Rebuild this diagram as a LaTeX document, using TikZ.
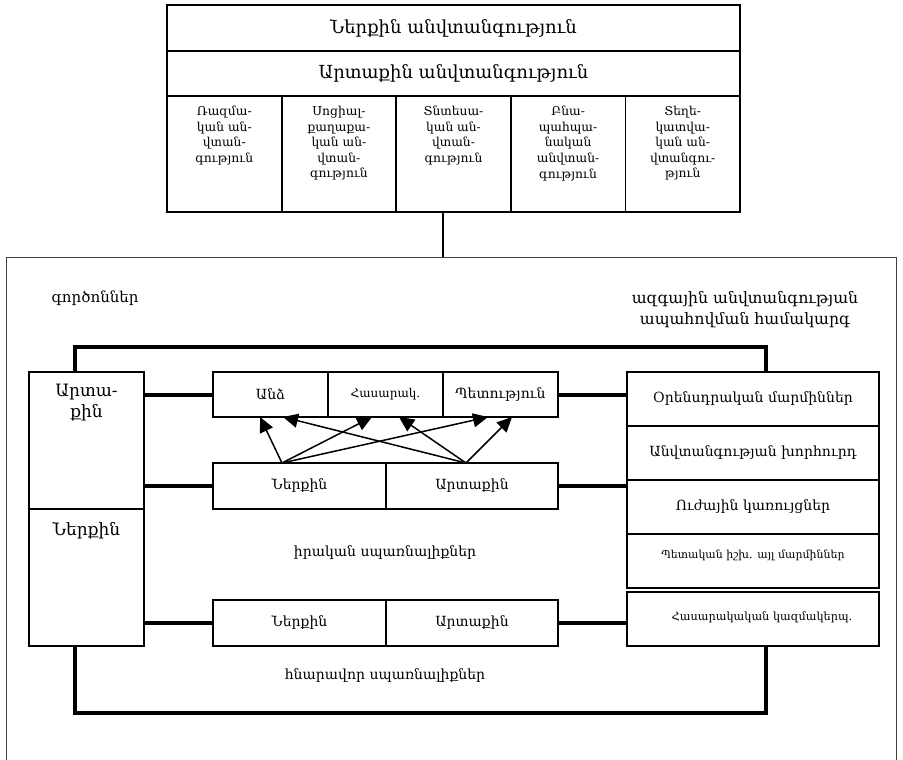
\documentclass[tikz,border=0pt]{standalone}
\usepackage{fontspec}
\setmainfont{DejaVu Serif}
\usetikzlibrary{arrows.meta}
\begin{document}
\begin{tikzpicture}[x=1pt,y=-1pt,
  cell/.style={draw,line width=1.4pt,inner sep=0pt,outer sep=0pt,anchor=north west},
  topcell/.style={cell,line width=1.8pt},
  thickline/.style={line width=4pt},
  thinline/.style={line width=1.5pt},
  arr/.style={line width=1.5pt,-{Triangle[length=15pt,width=14pt]}},
  fbig/.style={font=\fontsize{18}{21}\selectfont},
  fmid/.style={font=\fontsize{14}{17}\selectfont},
  fleft/.style={font=\fontsize{17}{21}\selectfont},
  fsmall/.style={font=\fontsize{12}{15}\selectfont},
  coltext/.style={anchor=north,align=center,inner sep=0pt,font=\fontsize{12.3}{15.6}\selectfont}]
\useasboundingbox (0,0) rectangle (903,760);
% top block
\node[topcell,minimum width=573pt,minimum height=46pt,fbig] (tin) at (167,5) {Ներքին անվտանգություն};
\node[topcell,minimum width=573pt,minimum height=45pt,fbig] (tout) at (167,51) {Արտաքին անվտանգություն};
\node[topcell,minimum width=114.6pt,minimum height=116pt] (c1) at (167,96) {};
\node[topcell,minimum width=114.6pt,minimum height=116pt] (c2) at (281.6,96) {};
\node[topcell,minimum width=114.6pt,minimum height=116pt] (c3) at (396.2,96) {};
\node[topcell,minimum width=114.6pt,minimum height=116pt] (c4) at (510.8,96) {};
\node[topcell,minimum width=114.6pt,minimum height=116pt] (c5) at (625.4,96) {};
\node[coltext] (t1) at ([yshift=-10pt]c1.north) {Ռազմա-\\կան ան-\\վտան-\\գություն};
\node[coltext] (t2) at ([yshift=-10pt]c2.north) {Սոցիալ-\\քաղաքա-\\կան ան-\\վտան-\\գություն};
\node[coltext] (t3) at ([yshift=-10pt]c3.north) {Տնտեսա-\\կան ան-\\վտան-\\գություն};
\node[coltext] (t4) at ([yshift=-10pt]c4.north) {Բնա-\\պահպա-\\նական\\անվտան-\\գություն};
\node[coltext] (t5) at ([yshift=-10pt]c5.north) {Տեղե-\\կատվա-\\կան ան-\\վտանգու-\\թյուն};
% outer frame
\coordinate (fj) at (443,257);
\coordinate (ftl) at (6,257);
\coordinate (ftr) at (896,257);
\draw[line width=1pt,black!75] (6,770) -- (ftl) -- (ftr) -- (896,770);
\draw[thinline] (c3.south -| fj) -- (fj);
% labels
\node[font=\fontsize{15}{18}\selectfont] (gorc) at (95,298) {գործոններ};
\node[align=center,font=\fontsize{15.7}{21}\selectfont] (hamak) at (745,310) {ազգային անվտանգության\\ապահովման համակարգ};
% left column
\node[cell,minimum width=115pt,minimum height=137pt] (lext) at (29,372) {};
\node[fleft,align=center,anchor=north] (lextt) at ([yshift=-9pt]lext.north) {Արտա-\\քին};
\node[cell,minimum width=115pt,minimum height=137pt] (lint) at (29,509) {};
\node[fleft,anchor=north] (lintt) at ([yshift=-10pt]lint.north) {Ներքին};
% middle rows
\node[cell,minimum width=115pt,minimum height=45pt,fmid] (anz) at (213,372) {Անձ};
\node[cell,minimum width=115pt,minimum height=45pt,fsmall] (has) at (328,372) {Հասարակ.};
\node[cell,minimum width=115pt,minimum height=45pt,fmid] (pet) at (443,372) {Պետություն};
\node[cell,minimum width=173pt,minimum height=46pt,fmid] (r2n) at (213,463) {Ներքին};
\node[cell,minimum width=172pt,minimum height=46pt,fmid] (r2a) at (386,463) {Արտաքին};
\node[cell,minimum width=173pt,minimum height=46pt,fmid] (r3n) at (213,600) {Ներքին};
\node[cell,minimum width=172pt,minimum height=46pt,fmid] (r3a) at (386,600) {Արտաքին};
\node[fmid] (irak) at (385,553) {իրական սպառնալիքներ};
\node[fmid] (hnar) at (385,676) {հնարավոր սպառնալիքներ};
% right column
\node[cell,minimum width=252pt,minimum height=54pt,fmid] (o1) at (627,372) {Օրենսդրական մարմիններ};
\node[cell,minimum width=252pt,minimum height=54pt,fmid] (o2) at (627,426) {Անվտանգության խորհուրդ};
\node[cell,minimum width=252pt,minimum height=54pt,fmid] (o3) at (627,480) {Ուժային կառույցներ};
\node[cell,minimum width=252pt,minimum height=54pt] (o4) at (627,534) {};
\node[font=\fontsize{11}{13}\selectfont] (o4t) at ([yshift=-21pt]o4.north) {Պետական իշխ. այլ մարմիններ};
\node[cell,minimum width=252pt,minimum height=54pt] (o5) at (627,592) {};
\node[font=\fontsize{11.3}{14}\selectfont] (o5t) at ([xshift=9pt,yshift=-25pt]o5.north) {Հասարակական կազմակերպ.};
% loop
\coordinate (lt) at (75,347);
\coordinate (rt) at (766,347);
\coordinate (lb) at (75,713);
\coordinate (rb) at (766,713);
\draw[thickline] (lext.north -| lt) -- (lt) -- (rt) -- (o1.north -| rt);
\draw[thickline] (lint.south -| lb) -- (lb) -- (rb) -- (o5.south -| rb);
% connectors
\draw[thickline] (anz.west -| lext.east) -- (anz.west);
\draw[thickline] (pet.east) -- (pet.east -| o1.west);
\draw[thickline] (r2n.west -| lext.east) -- (r2n.west);
\draw[thickline] (r2a.east) -- (r2a.east -| o3.west);
\draw[thickline] (r3n.west -| lint.east) -- (r3n.west);
\draw[thickline] (r3a.east) -- (r3a.east -| o5.west);
% arrows
\coordinate (sL) at (282,463);
\coordinate (sR) at (466,463);
\draw[arr] (sL) -- ([xshift=-10.5pt]anz.south);
\draw[arr] (sL) -- ([xshift=-13.5pt]has.south);
\draw[arr] (sL) -- ([xshift=-12.5pt]pet.south);
\draw[arr] (sR) -- ([xshift=12.5pt]anz.south);
\draw[arr] (sR) -- ([xshift=13.5pt]has.south);
\draw[arr] (sR) -- ([xshift=11.5pt]pet.south);
\end{tikzpicture}
\end{document}
